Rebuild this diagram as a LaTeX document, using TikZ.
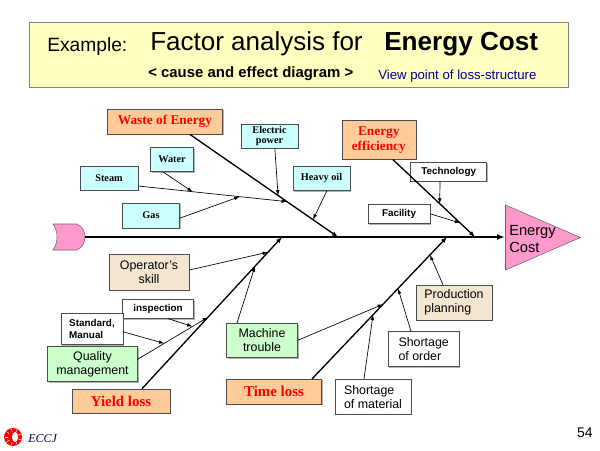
\documentclass[tikz,border=0pt]{standalone}
\usepackage{fontspec}
\setmainfont{Liberation Serif}
\setsansfont{Liberation Sans}
\usepackage{tikz}
\usetikzlibrary{arrows.meta,shadows}

\definecolor{titlefill}{HTML}{FFFFBF}
\definecolor{bonefill}{HTML}{FFCC99}
\definecolor{skyfill}{HTML}{CCFFFF}
\definecolor{mintfill}{HTML}{CCFFCC}
\definecolor{sandfill}{HTML}{F5E6D2}
\definecolor{pinkfill}{HTML}{FF99CC}
\definecolor{viewblue}{HTML}{000099}

\begin{document}
\begin{tikzpicture}[x=0.75pt,y=-0.75pt,
        dims/.style 2 args={minimum width=#1*0.75pt,minimum height=#2*0.75pt},
        box/.style={draw=black!70,inner sep=1pt,align=center,drop shadow={shadow xshift=0.9pt,shadow yshift=-0.9pt,opacity=0.6}},
        bonebox/.style={box,fill=bonefill,text=red,font=\fontsize{10}{11.25}\selectfont\bfseries},
        skybox/.style={box,fill=skyfill,font=\fontsize{7.7}{8}\selectfont\bfseries},
        tagbox/.style={box,fill=white,align=left,font=\fontsize{7.4}{9}\selectfont\sffamily\bfseries},
        notebox/.style={box,align=left,font=\fontsize{9.3}{10.7}\selectfont\sffamily},
        spine/.style={line width=1.5pt,-{Latex[length=6pt,width=4.5pt]}},
        bone/.style={line width=1pt,-{Latex[length=4.5pt,width=3.5pt]}},
        twig/.style={line width=0.5pt,-{Latex[length=4pt,width=2.8pt]}}]
        \useasboundingbox (0,0) rectangle (600,450);

        \node[dims={539}{65}, fill=titlefill,draw=black!50,drop shadow={shadow xshift=0.9pt,shadow yshift=-0.9pt,opacity=0.6}] (title) at (298.5,54.5) {};
        \node[anchor=base west,inner sep=0,font=\fontsize{14.4}{16}\selectfont\sffamily] (example) at (47,51) {Example:};
        \node[anchor=base west,inner sep=0,font=\fontsize{19.5}{22}\selectfont\sffamily] (factor) at (150,50) {Factor analysis for};
        \node[anchor=base west,inner sep=0,font=\fontsize{19.6}{22}\selectfont\sffamily\bfseries] (energy) at (384,50) {Energy Cost};
        \node[anchor=base west,inner sep=0,font=\fontsize{11.2}{13}\selectfont\sffamily\bfseries] (cause) at (148,77) {< cause and effect diagram >};
        \node[anchor=base west,inner sep=0,text=viewblue,font=\fontsize{9.9}{12}\selectfont\sffamily] (view) at (378,79) {View point of loss-structure};

        \draw[fill=pinkfill,draw=black!60] (53,224) -- (77,224) .. controls (83,227) and (85,232) .. (85,237) .. controls (85,242) and (83,247) .. (77,250) -- (53,250) .. controls (56,246) and (57,241) .. (57,237) .. controls (57,233) and (56,228) .. (53,224) -- cycle;
        \draw[fill=pinkfill,draw=black!60] (505.5,205) -- (580.5,237.5) -- (505.5,270) -- cycle;
        \node[anchor=west,inner sep=0,align=left,font=\fontsize{11}{12.75}\selectfont\sffamily] (cost) at (509,239) {Energy\\Cost};
        \coordinate (tail) at (85,237);
        \coordinate (head) at (505,237);
        \coordinate (wTip) at (338,237);
        \coordinate (eTip) at (475,237);
        \coordinate (yTip) at (282,237);
        \coordinate (tTip) at (447,237);

        \node[bonebox,dims={115}{25}] (waste) at (165,121.7) {Waste of Energy};
        \node[bonebox,dims={74}{39}] (effic) at (378.8,139.7) {Energy\\efficiency};
        \node[bonebox,dims={98}{24},font=\fontsize{11.2}{12}\selectfont\bfseries] (yield) at (121,401) {Yield loss};
        \node[bonebox,dims={95}{25},font=\fontsize{11.2}{12}\selectfont\bfseries] (time) at (274,391.7) {Time loss};

        \node[skybox,dims={57}{24}] (elec) at (269.5,136) {Electric\\power};
        \node[skybox,dims={43}{24}] (water) at (172,159.7) {Water};
        \node[skybox,dims={58}{24}] (steam) at (109,178) {Steam};
        \node[skybox,dims={57}{24.7}] (oil) at (321.5,178.3) {Heavy oil};
        \node[skybox,dims={57}{25}] (gas) at (151,215.5) {Gas};

        \node[tagbox,dims={76}{19}] (tech) at (448.7,171.7) {Technology};
        \node[tagbox,dims={62}{19}] (facil) at (399,213.8) {Facility};
        \node[tagbox,dims={71}{19}] (insp) at (158,308.8) {inspection};
        \node[tagbox,dims={62}{31}] (std) at (92,328.8) {Standard,\\Manual};

        \node[notebox,dims={80}{36},fill=sandfill,align=center] (oper) at (149,272) {Operator's\\skill};
        \node[notebox,dims={90}{35},fill=mintfill,align=center] (qual) at (92.5,364.2) {Quality\\management};
        \node[notebox,dims={71}{34},fill=mintfill,align=center] (mach) at (262,340.3) {Machine\\trouble};
        \node[notebox,dims={76}{35},fill=sandfill] (prod) at (454,302.5) {Production\\planning};
        \node[notebox,dims={71}{35},fill=white] (order) at (423.7,349.2) {Shortage\\of order};
        \node[notebox,dims={76}{35},fill=white] (mat) at (373,396.7) {Shortage\\of material};

        \draw[spine] (tail) -- (head);
        \draw[bone] ([xshift=18.75pt]waste.south) -- coordinate[pos=0.595] (wElec) coordinate[pos=0.655] (wSteam) coordinate[pos=0.831] (wOil) (wTip);
        \draw[bone] ([xshift=10.5pt]effic.south) -- coordinate[pos=0.57] (eTech) coordinate[pos=0.82] (eFacil) (eTip);
        \draw[bone] ([xshift=15.75pt]yield.north) -- coordinate[pos=0.471] (yQual) coordinate[pos=0.807] (yMach) coordinate[pos=0.9] (yOper) (yTip);
        \draw[bone] ([xshift=28.5pt]time.north) -- coordinate[pos=0.452] (tMat) coordinate[pos=0.526] (tMach) coordinate[pos=0.637] (tOrder) coordinate[pos=0.874] (tProd) (tTip);

        \draw[twig] ([yshift=-6pt]steam.east) -- coordinate[pos=0.365] (sWater) coordinate[pos=0.682] (sGas) (wSteam);
        \draw[twig] ([xshift=-6.75pt]water.south) -- (sWater);
        \draw[twig] ([yshift=-2pt]gas.east) -- (sGas);
        \draw[twig] ([xshift=4pt]elec.south) -- (wElec);
        \draw[twig] ([xshift=4pt]oil.south) -- (wOil);
        \draw[twig] ([xshift=-6.5pt]tech.south) -- (eTech);
        \draw[twig] (facil.east) -- (eFacil);
        \draw[twig] ([yshift=1.5pt]oper.east) -- (yOper);
        \draw[twig] ([yshift=3.75pt]qual.east) -- coordinate[pos=0.377] (qStd) coordinate[pos=0.78] (qInsp) (yQual);
        \draw[twig] ([xshift=7.5pt]insp.south) -- (qInsp);
        \draw[twig] ([yshift=-2.25pt]std.east) -- (qStd);
        \draw[twig] ([xshift=-18.75pt]mach.north) -- (yMach);
        \draw[twig] (mach.east) -- (tMach);
        \draw[twig] ([xshift=-8.25pt]prod.north) -- (tProd);
        \draw[twig] ([xshift=-9.5pt]order.north) -- (tOrder);
        \draw[twig] ([xshift=-6.75pt]mat.north) -- (tMat);

        \fill[red] (13,437) circle [radius=9];
        \fill[white] (15,437) ellipse [x radius=3,y radius=5];
        \foreach \a in {20,60,...,340}
            \draw[white,line width=0.4pt] (13,437) ++(\a:5) -- ++(\a:3.5);
        \node[anchor=base west,inner sep=0,text=black!70!blue,font=\fontsize{9}{10}\selectfont\itshape] (eccj) at (28,442) {ECCJ};
        \node[anchor=base east,inner sep=0,font=\fontsize{10.5}{12}\selectfont\sffamily] (page) at (593,437) {54};
    \end{tikzpicture}
\end{document}
